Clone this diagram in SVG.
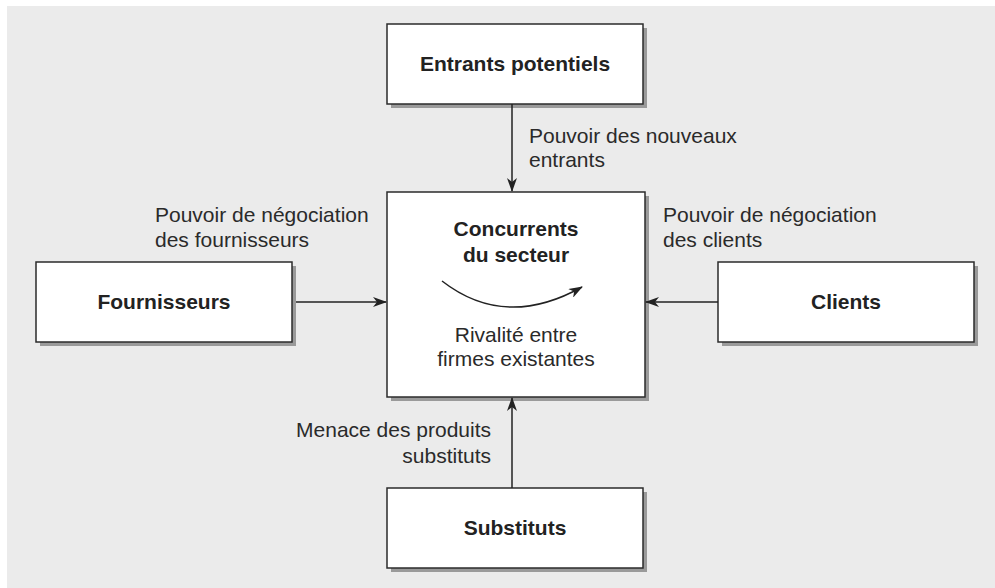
<svg xmlns="http://www.w3.org/2000/svg" width="995" height="588" viewBox="0 0 995 588">
<defs>
<style>
.box{fill:#fff;stroke:#2b2b2b;stroke-width:1.5}
.shadow{fill:#9a9a9a}
.title{font-family:"Liberation Sans",Arial,sans-serif;font-weight:bold;font-size:21px;fill:#222;text-anchor:middle}
.lbl{font-family:"Liberation Sans",Arial,sans-serif;font-size:21px;fill:#2a2a2a}
.conn{stroke:#222;stroke-width:1.5;fill:none}
</style>
<marker id="arr" viewBox="0 0 14 10" refX="13" refY="5" markerWidth="14" markerHeight="10" markerUnits="userSpaceOnUse" orient="auto">
<path d="M0,0 L14,5 L0,10 L4,5 Z" fill="#222"/>
</marker>
</defs>
<rect x="7" y="6" width="988" height="582" fill="#ebebeb"/>
<g id="entrants">
<rect class="shadow" x="391" y="28" width="256" height="80"/>
<rect class="box" x="387" y="24" width="256" height="80"/>
<text class="title" x="515" y="71">Entrants potentiels</text>
</g>
<g id="concurrents">
<rect class="shadow" x="391" y="196" width="258" height="205"/>
<rect class="box" x="387" y="192" width="258" height="205"/>
<text class="title" x="516" y="236">Concurrents</text>
<text class="title" x="516" y="262">du secteur</text>
<path class="conn" d="M442,281 Q505,330 582,287" marker-end="url(#arr)"/>
<text class="lbl" x="516" y="342" text-anchor="middle">Rivalité entre</text>
<text class="lbl" x="516" y="366" text-anchor="middle">firmes existantes</text>
</g>
<g id="fournisseurs">
<rect class="shadow" x="40" y="266" width="256" height="80"/>
<rect class="box" x="36" y="262" width="256" height="80"/>
<text class="title" x="164" y="309">Fournisseurs</text>
</g>
<g id="clients">
<rect class="shadow" x="722" y="266" width="256" height="80"/>
<rect class="box" x="718" y="262" width="256" height="80"/>
<text class="title" x="846" y="309">Clients</text>
</g>
<g id="substituts">
<rect class="shadow" x="391" y="492" width="256" height="80"/>
<rect class="box" x="387" y="488" width="256" height="80"/>
<text class="title" x="515" y="535">Substituts</text>
</g>
<g id="connectors">
<line class="conn" x1="512" y1="104" x2="512" y2="191" marker-end="url(#arr)"/>
<line class="conn" x1="296" y1="302" x2="386" y2="302" marker-end="url(#arr)"/>
<line class="conn" x1="718" y1="302" x2="646" y2="302" marker-end="url(#arr)"/>
<line class="conn" x1="512" y1="488" x2="512" y2="398" marker-end="url(#arr)"/>
</g>
<g id="labels">
<text class="lbl" x="529" y="143">Pouvoir des nouveaux</text>
<text class="lbl" x="529" y="167">entrants</text>
<text class="lbl" x="155" y="222">Pouvoir de négociation</text>
<text class="lbl" x="155" y="247">des fournisseurs</text>
<text class="lbl" x="663" y="222">Pouvoir de négociation</text>
<text class="lbl" x="663" y="247">des clients</text>
<text class="lbl" x="491" y="437" text-anchor="end">Menace des produits</text>
<text class="lbl" x="491" y="463" text-anchor="end">substituts</text>
</g>
</svg>
